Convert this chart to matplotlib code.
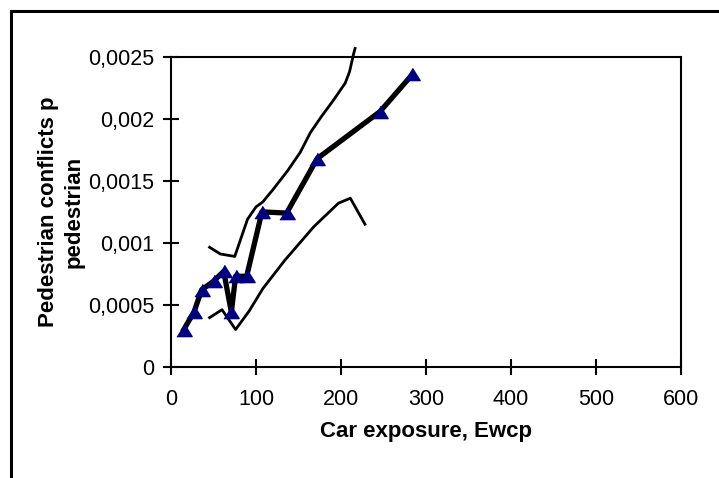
import numpy as np
import matplotlib
matplotlib.use("Agg")
from matplotlib import pyplot as plt
from matplotlib.lines import Line2D
from matplotlib.ticker import FuncFormatter

plt.rcParams["font.family"] = ["Liberation Sans", "DejaVu Sans"]

# observed conflicts per pedestrian vs car exposure (thick line with triangles)
exposure = [15, 27, 36, 50, 62, 71, 76, 89, 107, 136, 172, 246, 284]
conflicts = [0.00030, 0.00044, 0.00062, 0.00069, 0.00077, 0.00044, 0.00073,
             0.00073, 0.00125, 0.00124, 0.00168, 0.00206, 0.00236]

# upper band (thin line)
upper_x = [44, 58, 75, 90, 100, 108, 120, 137, 152, 164, 177, 191, 205, 210, 215, 217]
upper_y = [0.00097, 0.00091, 0.00089, 0.00119, 0.00129, 0.00133, 0.00143, 0.00158,
           0.00173, 0.00189, 0.00202, 0.00215, 0.00229, 0.00238, 0.00253, 0.00258]

# lower band (thin line)
lower_x = [44, 60, 76, 92, 108, 134, 168, 197, 211, 229]
lower_y = [0.00039, 0.00046, 0.00030, 0.00045, 0.00063, 0.00086, 0.00113,
           0.00132, 0.00136, 0.00114]

x_ticks = [0, 100, 200, 300, 400, 500, 600]
y_ticks = [0, 0.0005, 0.001, 0.0015, 0.002, 0.0025]

fig = plt.figure(figsize=(7.19, 4.78), dpi=100)

# outer chart frame (only top and left edges are visible in the crop)
fw, fh = 719.0, 478.0
fig.add_artist(Line2D([11 / fw, 1.0], [1 - 10.7 / fh, 1 - 10.7 / fh],
                      transform=fig.transFigure, color="black", lw=2.2))
fig.add_artist(Line2D([11 / fw, 11 / fw], [0.0, 1 - 10.7 / fh],
                      transform=fig.transFigure, color="black", lw=2.2))

ax = fig.add_axes([171 / fw, 1 - 366.7 / fh, (681 - 171) / fw, (366.7 - 57) / fh])

tri = [(-1, -0.8), (1, -0.8), (0, 0.8)]

ax.plot(upper_x, upper_y, color="black", lw=2.0, clip_on=False, solid_capstyle="butt")
ax.plot(lower_x, lower_y, color="black", lw=2.0, solid_capstyle="butt")
ax.plot(exposure, conflicts, color="black", lw=3.8, zorder=3)
ax.plot(exposure, conflicts, ls="none", marker=tri, ms=11,
        mfc="#000080", mec="#000080", zorder=4)

ax.set_xlim(0, 600)
ax.set_ylim(0, 0.0025)
ax.set_xticks(x_ticks)
ax.set_yticks(y_ticks)
ax.yaxis.set_major_formatter(FuncFormatter(lambda v, p: "0" if v == 0 else f"{v:g}".replace(".", ",")))

for s in ax.spines.values():
    s.set_linewidth(1.5)
    s.set_color("black")

ax.tick_params(axis="both", direction="inout", length=11.5, width=1.5,
               labelsize=15.5, colors="black")
ax.tick_params(axis="x", pad=10)
ax.tick_params(axis="y", pad=6.5)

ax.set_xlabel("Car exposure, Ewcp", fontsize=16, fontweight="bold", labelpad=8)
ax.set_ylabel("Pedestrian conflicts p\npedestrian", fontsize=16,
              fontweight="bold", labelpad=2, linespacing=1.3)

fig.savefig("out.png", dpi=100)
